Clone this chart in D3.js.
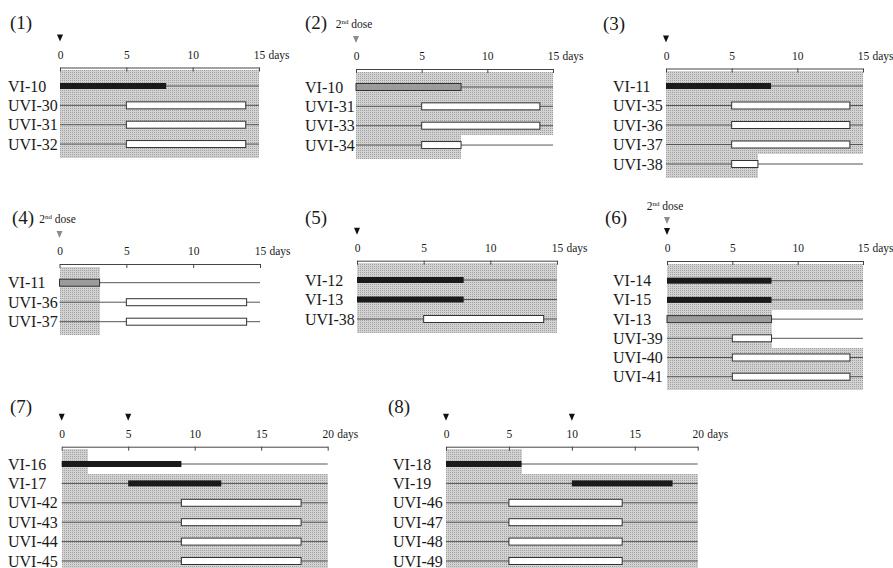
<!DOCTYPE html>
<html>
<head>
<meta charset="utf-8">
<script src="https://cdn.jsdelivr.net/npm/d3@7"></script>
<style>
    body { margin: 0; background: #fff; }
    svg text { font-family: "Liberation Serif", "DejaVu Serif", "Times New Roman", serif; fill: #1a1a1a; }
</style>
</head>
<body>
<div id="chart"></div>
<script>

    // ---- data ----
    var panelTitles = ["(1)", "(2)", "(3)", "(4)", "(5)", "(6)", "(7)", "(8)"];
    var ticks15 = [0, 5, 10, 15];
    var ticks20 = [0, 5, 10, 15, 20];
    var daysMax = [15, 15, 15, 15, 15, 15, 20, 20];

    // kind: v = virus (black), b = 2nd dose (grey), u = UVI (white)
    var p1Rows = ["VI-10", "UVI-30", "UVI-31", "UVI-32"];
    var p1Start = [0, 5, 5, 5];
    var p1End = [8, 14, 14, 14];
    var p1Kind = ["v", "u", "u", "u"];
    var p1Shade = [15, 15, 15, 15];

    var p2Rows = ["VI-10", "UVI-31", "UVI-33", "UVI-34"];
    var p2Start = [0, 5, 5, 5];
    var p2End = [8, 14, 14, 8];
    var p2Kind = ["b", "u", "u", "u"];
    var p2Shade = [15, 15, 15, 8];

    var p3Rows = ["VI-11", "UVI-35", "UVI-36", "UVI-37", "UVI-38"];
    var p3Start = [0, 5, 5, 5, 5];
    var p3End = [8, 14, 14, 14, 7];
    var p3Kind = ["v", "u", "u", "u", "u"];
    var p3Shade = [15, 15, 15, 15, 7];

    var p4Rows = ["VI-11", "UVI-36", "UVI-37"];
    var p4Start = [0, 5, 5];
    var p4End = [3, 14, 14];
    var p4Kind = ["b", "u", "u"];
    var p4Shade = [3, 3, 3];

    var p5Rows = ["VI-12", "VI-13", "UVI-38"];
    var p5Start = [0, 0, 5];
    var p5End = [8, 8, 14];
    var p5Kind = ["v", "v", "u"];
    var p5Shade = [15, 15, 15];

    var p6Rows = ["VI-14", "VI-15", "VI-13", "UVI-39", "UVI-40", "UVI-41"];
    var p6Start = [0, 0, 0, 5, 5, 5];
    var p6End = [8, 8, 8, 8, 14, 14];
    var p6Kind = ["v", "v", "b", "u", "u", "u"];
    var p6Shade = [15, 15, 8, 8, 15, 15];

    var p7Rows = ["VI-16", "VI-17", "UVI-42", "UVI-43", "UVI-44", "UVI-45"];
    var p7Start = [0, 5, 9, 9, 9, 9];
    var p7End = [9, 12, 18, 18, 18, 18];
    var p7Kind = ["v", "v", "u", "u", "u", "u"];
    var p7Shade = [2, 20, 20, 20, 20, 20];

    var p8Rows = ["VI-18", "VI-19", "UVI-46", "UVI-47", "UVI-48", "UVI-49"];
    var p8Start = [0, 10, 5, 5, 5, 5];
    var p8End = [6, 18, 14, 14, 14, 14];
    var p8Kind = ["v", "v", "u", "u", "u", "u"];
    var p8Shade = [6, 20, 20, 20, 20, 20];

    // inoculation days (black arrows) and 2nd dose days (grey arrows)
    var firstDose = [[0], [], [0], [], [0], [0], [0, 5], [0, 10]];
    var secondDose = [[], [0], [], [0], [], [0], [], []];

    // ---- layout (pixels) ----
    var layout = [
        {x0: 60,   x1: 259,   axisY: 67.5,  row0: 86,    step: 19.35, labelX: 8,   titleX: 10,  titleY: 29},
        {x0: 356,  x1: 553,   axisY: 69,    row0: 87,    step: 19.35, labelX: 305, titleX: 305, titleY: 29},
        {x0: 666,  x1: 863,   axisY: 68.5,  row0: 86,    step: 19.5,  labelX: 613, titleX: 603, titleY: 30},
        {x0: 59.5, x1: 260,   axisY: 264,   row0: 282.7, step: 19.5,  labelX: 8,   titleX: 12,  titleY: 224},
        {x0: 357,  x1: 557,   axisY: 260.7, row0: 280,   step: 19.5,  labelX: 305, titleX: 305, titleY: 224},
        {x0: 667,  x1: 863,   axisY: 261,   row0: 280.7, step: 19.2,  labelX: 613, titleX: 605, titleY: 224},
        {x0: 61.7, x1: 327.7, axisY: 446.7, row0: 464,   step: 19.4,  labelX: 8,   titleX: 10,  titleY: 413},
        {x0: 446,  x1: 697.7, axisY: 446.7, row0: 464,   step: 19.4,  labelX: 393, titleX: 388, titleY: 413}
    ];

    var panels = [
        {rows: p1Rows, start: p1Start, end: p1End, kind: p1Kind, shade: p1Shade},
        {rows: p2Rows, start: p2Start, end: p2End, kind: p2Kind, shade: p2Shade},
        {rows: p3Rows, start: p3Start, end: p3End, kind: p3Kind, shade: p3Shade},
        {rows: p4Rows, start: p4Start, end: p4End, kind: p4Kind, shade: p4Shade},
        {rows: p5Rows, start: p5Start, end: p5End, kind: p5Kind, shade: p5Shade},
        {rows: p6Rows, start: p6Start, end: p6End, kind: p6Kind, shade: p6Shade},
        {rows: p7Rows, start: p7Start, end: p7End, kind: p7Kind, shade: p7Shade},
        {rows: p8Rows, start: p8Start, end: p8End, kind: p8Kind, shade: p8Shade}
    ];

    var svg = d3.select("#chart")
        .append("svg")
        .attr("width", 893)
        .attr("height", 568);

    // stipple used for the shaded periods
    var pat = svg.append("defs").append("pattern")
        .attr("id", "stipple")
        .attr("patternUnits", "userSpaceOnUse")
        .attr("width", 2)
        .attr("height", 2);
    pat.append("rect").attr("width", 2).attr("height", 2).attr("fill", "#d2d2d2");
    pat.append("rect").attr("width", 1).attr("height", 1).attr("fill", "#a2a2a2");

    function arrow(g, cx, tipY, color) {
        g.append("path")
            .attr("d", "M" + (cx - 3) + "," + (tipY - 7) + "L" + (cx + 3) + "," + (tipY - 7) + "L" + cx + "," + tipY + "Z")
            .attr("fill", color);
    }

    panels.forEach(function (p, i) {
        var L = layout[i];
        var g = svg.append("g");
        var n = p.rows.length;

        var x = d3.scaleLinear()
            .domain([0, daysMax[i]])
            .range([L.x0, L.x1]);

        var y = d3.scaleLinear()
            .domain([0, n - 1])
            .range([L.row0, L.row0 + L.step * (n - 1)]);

        // shaded bands, one per row
        g.append("g")
            .selectAll("rect")
            .data(p.rows)
            .enter()
            .append("rect")
            .attr("x", x(0))
            .attr("width", function (d, j) { return x(p.shade[j]) - x(0); })
            .attr("y", function (d, j) {
                return j === 0 ? L.axisY + 2.5 : (y(j - 1) + y(j)) / 2;
            })
            .attr("height", function (d, j) {
                var top = j === 0 ? L.axisY + 2.5 : (y(j - 1) + y(j)) / 2;
                var bot = j === n - 1 ? y(j) + 13.5 : (y(j) + y(j + 1)) / 2;
                return bot - top;
            })
            .attr("fill", "url(#stipple)")
            .attr("shape-rendering", "crispEdges");

        // top axis with ticks pointing down
        var axis = g.append("g")
            .attr("transform", "translate(0," + L.axisY + ")")
            .call(d3.axisTop(x)
                .tickValues(daysMax[i] === 20 ? ticks20 : ticks15)
                .tickSizeInner(-4)
                .tickSizeOuter(0)
                .tickPadding(9));
        axis.select(".domain").attr("stroke", "#444");
        axis.selectAll(".tick line").attr("stroke", "#444");
        axis.selectAll(".tick text")
            .attr("font-size", 11.5)
            .attr("fill", "#1a1a1a");

        g.append("text")
            .attr("x", L.x1 + 9.5)
            .attr("y", L.axisY - 9)
            .attr("font-size", 11.5)
            .text("days");

        // panel number
        g.append("text")
            .attr("x", L.titleX)
            .attr("y", L.titleY)
            .attr("font-size", 19)
            .text(panelTitles[i]);

        // row lines
        g.append("g")
            .selectAll("line")
            .data(p.rows)
            .enter()
            .append("line")
            .attr("x1", x(0))
            .attr("x2", x(daysMax[i]))
            .attr("y1", function (d, j) { return y(j); })
            .attr("y2", function (d, j) { return y(j); })
            .attr("stroke", "#555")
            .attr("stroke-width", 1);

        // row labels
        g.append("g")
            .selectAll("text")
            .data(p.rows)
            .enter()
            .append("text")
            .attr("x", L.labelX)
            .attr("y", function (d, j) { return y(j) + 5.5; })
            .attr("font-size", 16)
            .text(function (d) { return d; });

        // bars
        g.append("g")
            .selectAll("rect")
            .data(p.rows)
            .enter()
            .append("rect")
            .attr("x", function (d, j) { return x(p.start[j]); })
            .attr("width", function (d, j) { return x(p.end[j]) - x(p.start[j]); })
            .attr("y", function (d, j) { return y(j) - (p.kind[j] === "v" ? 3 : 3.5); })
            .attr("height", function (d, j) { return p.kind[j] === "v" ? 6 : 7; })
            .attr("fill", function (d, j) {
                return p.kind[j] === "v" ? "#1a1a1a" : (p.kind[j] === "b" ? "#9b9b9b" : "#fff");
            })
            .attr("stroke", function (d, j) { return p.kind[j] === "v" ? "none" : "#333"; })
            .attr("stroke-width", 1);

        // dose arrows
        var second = secondDose[i];
        second.forEach(function (d) {
            var stacked = firstDose[i].indexOf(d) >= 0;
            var tip = L.axisY - (stacked ? 37 : 26);
            arrow(g, x(d), tip, "#8c8c8c");
            g.append("text")
                .attr("x", x(d) - 2)
                .attr("y", stacked ? L.axisY - 51 : L.axisY - 41.5)
                .attr("text-anchor", "middle")
                .attr("font-size", 11.5)
                .call(function (t) {
                    t.append("tspan").text("2");
                    t.append("tspan").attr("dy", -4).attr("font-size", 7).text("nd");
                    t.append("tspan").attr("dy", 4).text(" dose");
                });
        });
        firstDose[i].forEach(function (d) {
            arrow(g, x(d), L.axisY - 26, "#111");
        });
    });

</script>
</body>
</html>
